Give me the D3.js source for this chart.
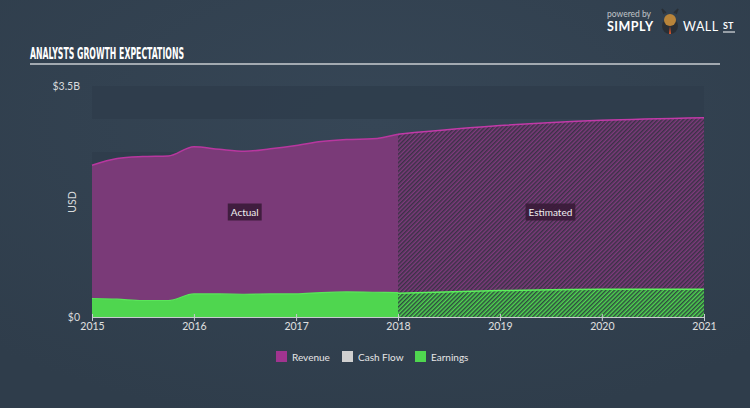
<!DOCTYPE html>
<html><head><meta charset="utf-8">
<script src="https://cdnjs.cloudflare.com/ajax/libs/d3/7.8.5/d3.min.js"></script>
<style>
html,body{margin:0;padding:0;background:#334250;}
svg{display:block;}
</style></head>
<body>
<svg id="chart" width="750" height="408"></svg>
<script>
// ---- data ----
const actualDates = ["2015-01-01","2015-04-01","2015-07-01","2015-10-01","2016-01-01","2016-04-01","2016-07-01","2016-10-01","2017-01-01","2017-04-01","2017-07-01","2017-10-01","2018-01-01"];
const revenueActual = [2.30,2.40,2.43,2.44,2.58,2.54,2.51,2.55,2.60,2.66,2.69,2.70,2.77];
const earningsActual = [0.28,0.27,0.25,0.25,0.35,0.35,0.345,0.35,0.35,0.37,0.38,0.375,0.37];
const estDates = ["2018-01-01","2019-01-01","2020-01-01","2021-01-01"];
const revenueEst = [2.77,2.90,2.98,3.02];
const earningsEst = [0.36,0.40,0.42,0.42];
const yearTicks = [2015,2016,2017,2018,2019,2020,2021];
const yTickLabels = ["$0","$3.5B"];
const yTickValues = [0,3.5];
const legendItems = ["Revenue","Cash Flow","Earnings"];
const legendColors = ["#a0348f","#d0d0d0","#4fd64f"];

const svg = d3.select("#chart");
const W = 750, H = 408;
const parse = d3.timeParse("%Y-%m-%d");
const font = "Lato, 'Open Sans', sans-serif";

// background gradient
const defs = svg.append("defs");
const bg = defs.append("radialGradient").attr("id","bg").attr("cx","50%").attr("cy","30%").attr("r","75%");
bg.append("stop").attr("offset","0%").attr("stop-color","#364656");
bg.append("stop").attr("offset","100%").attr("stop-color","#2f3d4b");
svg.append("rect").attr("width",W).attr("height",H).attr("fill","url(#bg)");

function hatch(id, base, line){
  const p = defs.append("pattern").attr("id",id).attr("patternUnits","userSpaceOnUse")
    .attr("width",3).attr("height",3).attr("patternTransform","rotate(45)");
  p.append("rect").attr("width",3).attr("height",3).attr("fill",base);
  p.append("line").attr("x1",0.75).attr("y1",0).attr("x2",0.75).attr("y2",3).attr("stroke",line).attr("stroke-width",1.5);
}
hatch("hRev","#7e3a7c","#3a3246");
hatch("hEarn","#4fd64f","#2f4a40");

const x = d3.scaleTime().domain([new Date(2015,0,1), new Date(2021,0,1)]).range([92,704]);
const y = d3.scaleLinear().domain([0,3.5]).range([317,86]);

// alternating bands
const bands = d3.range(0,3.5,0.5);
svg.append("g").selectAll("rect").data(bands.filter((d,i)=>i%2===0)).join("rect")
  .attr("x",92).attr("width",612)
  .attr("y",d=>y(3.5-d)).attr("height",d=>y(3.5-d-0.5)-y(3.5-d))
  .attr("fill","#2e3c4b").attr("opacity",0.8);

const act = actualDates.map((d,i)=>({date:parse(d),rev:revenueActual[i],earn:earningsActual[i]}));
const est = estDates.map((d,i)=>({date:parse(d),rev:revenueEst[i],earn:earningsEst[i]}));
const curve = d3.curveMonotoneX;

const areaRev = d3.area().x(d=>x(d.date)).y0(d=>y(d.earn)).y1(d=>y(d.rev)).curve(curve);
const areaEarn = d3.area().x(d=>x(d.date)).y0(y(0)).y1(d=>y(d.earn)).curve(curve);
const lineRev = d3.line().x(d=>x(d.date)).y(d=>y(d.rev)).curve(curve);
const lineEarn = d3.line().x(d=>x(d.date)).y(d=>y(d.earn)).curve(curve);

svg.append("path").datum(act).attr("d",areaRev).attr("fill","#7a3a78");
svg.append("path").datum(act).attr("d",areaEarn).attr("fill","#4fd64f");
svg.append("path").datum(est).attr("d",areaRev).attr("fill","url(#hRev)");
svg.append("path").datum(est).attr("d",areaEarn).attr("fill","url(#hEarn)");
svg.append("path").datum(act).attr("d",lineRev).attr("fill","none").attr("stroke","#b8379f").attr("stroke-width",1.5);
svg.append("path").datum(est).attr("d",lineRev).attr("fill","none").attr("stroke","#c23aa8").attr("stroke-width",1.5);
svg.append("path").datum(act).attr("d",lineEarn).attr("fill","none").attr("stroke","#5ae65a").attr("stroke-width",1.2);
svg.append("path").datum(est).attr("d",lineEarn).attr("fill","none").attr("stroke","#5cf05c").attr("stroke-width",1.5);

// x axis
const xAxis = d3.axisBottom(x).tickValues(yearTicks.map(yr=>new Date(yr,0,1))).tickFormat(d3.timeFormat("%Y")).tickSize(5).tickSizeOuter(0);
const gx = svg.append("g").attr("transform","translate(0,317)").call(xAxis);
gx.select(".domain").attr("stroke","#c8ccd0").attr("stroke-width",1);
gx.selectAll(".tick line").attr("stroke","#c8ccd0").attr("y1",-3).attr("y2",4);
gx.selectAll("text").attr("fill","#e0e0e0").attr("font-family",font).attr("font-size",10.5).attr("dy","0.95em").attr("y",3);

// y labels
svg.append("g").selectAll("text").data(yTickValues).join("text")
  .attr("x",80).attr("y",d=>y(d)+4).attr("text-anchor","end")
  .attr("fill","#d8dadc").attr("font-family",font).attr("font-size",10.5)
  .text((d,i)=>yTickLabels[i]);
svg.append("text").attr("transform","translate(76,202) rotate(-90)").attr("text-anchor","middle")
  .attr("fill","#d8dadc").attr("font-family",font).attr("font-size",10.5).text("USD");

// Actual/Estimated labels
function tag(cx, cy, t){
  const g = svg.append("g");
  const txt = g.append("text").attr("x",cx).attr("y",cy+3.5).attr("text-anchor","middle")
    .attr("fill","#f0f0f0").attr("font-family",font).attr("font-size",10).text(t);
  const bb = txt.node().getBBox();
  g.insert("rect","text").attr("x",bb.x-3).attr("y",cy-8.5).attr("width",bb.width+6).attr("height",17)
    .attr("fill","#3a1b38").attr("opacity",0.9);
}
tag(x(new Date(2016,6,1)), 212, "Actual");
tag(x(new Date(2019,6,1)), 212, "Estimated");

// title
svg.append("text").attr("x",30).attr("y",59).attr("fill","#ffffff")
  .attr("font-family","'DejaVu Sans Condensed','Liberation Sans Narrow',sans-serif").attr("font-weight","bold")
  .attr("font-size",16).attr("textLength",154).attr("lengthAdjust","spacingAndGlyphs")
  .text("ANALYSTS GROWTH EXPECTATIONS");
svg.append("line").attr("x1",30).attr("x2",720).attr("y1",64).attr("y2",64).attr("stroke","#c9ccd0").attr("stroke-width",1.5);

// logo
svg.append("text").attr("x",607).attr("y",17).attr("fill","#c0c4c8").attr("font-family",font).attr("font-size",8.5).text("powered by");
svg.append("text").attr("x",607).attr("y",31).attr("fill","#ffffff").attr("font-family",font).attr("font-weight","bold").attr("font-size",12.5).attr("letter-spacing",0.5).text("SIMPLY");
const lg = svg.append("g").attr("transform","translate(670,22)");
lg.append("circle").attr("r",8).attr("cy",4).attr("fill","#2a2f35");
lg.append("circle").attr("r",6).attr("cy",-2).attr("fill","#b8843a");
lg.append("path").attr("d","M-6,-8 L-8,-13 L-4,-9 M6,-8 L8,-13 L4,-9").attr("stroke","#2a2f35").attr("stroke-width",1.5).attr("fill","none");
lg.append("path").attr("d","M0,4 L-1,12 L1,12 Z").attr("fill","#e0562a");
svg.append("text").attr("x",683).attr("y",31).attr("fill","#ffffff").attr("font-family",font).attr("font-size",12.5).attr("letter-spacing",0.5).text("WALL");
svg.append("text").attr("x",723).attr("y",29).attr("fill","#ffffff").attr("font-family",font).attr("font-weight","bold").attr("font-size",9).text("ST");
svg.append("line").attr("x1",723).attr("x2",735).attr("y1",32).attr("y2",32).attr("stroke","#fff").attr("stroke-width",1);

// legend
const legX = [276,342,415];
const lgG = svg.append("g").selectAll("g").data(legendItems).join("g")
  .attr("transform",(d,i)=>`translate(${legX[i]},351)`);
lgG.append("rect").attr("width",11).attr("height",11).attr("fill",(d,i)=>legendColors[i]);
lgG.append("text").attr("x",16).attr("y",9.5).attr("fill","#e6e6e6").attr("font-family",font).attr("font-size",10).text(d=>d);
</script>
</body></html>
